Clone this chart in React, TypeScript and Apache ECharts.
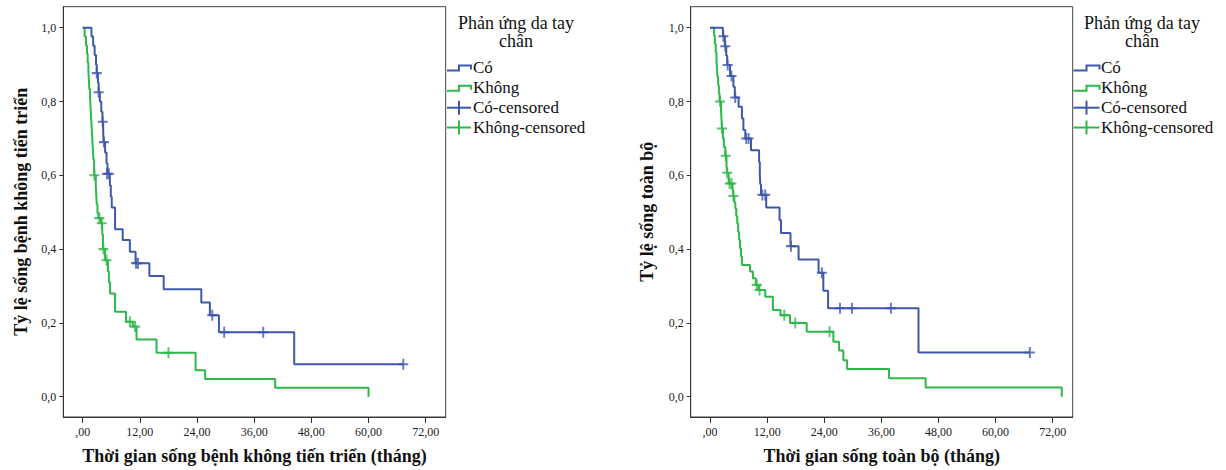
import React, { useEffect, useRef } from "react";
import * as echarts from "echarts";

const xTicks = [0, 12, 24, 36, 48, 60, 72];
const yTicks = [0, 0.2, 0.4, 0.6, 0.8, 1.0];
const legendTitle = ["Phản ứng da tay", "chân"];
const legendLabels = ["Có", "Không", "Có-censored", "Không-censored"];
const pfsXTitle = "Thời gian sống bệnh không tiến triển (tháng)";
const pfsYTitle = "Tỷ lệ sống bệnh không tiến triển";
const osXTitle = "Thời gian sống toàn bộ (tháng)";
const osYTitle = "Tỷ lệ sống toàn bộ";

// Progression-free survival, "Có" group: [time, survival after event]
const pfsCo = [
  [0, 1.0], [1.85, 0.976], [2.2, 0.951], [2.5, 0.926], [2.8, 0.9], [2.95, 0.877],
  [3.2, 0.851], [3.35, 0.825], [3.6, 0.8], [3.9, 0.772], [4.15, 0.745], [4.3, 0.718],
  [4.4, 0.69], [4.7, 0.662], [5.0, 0.633], [5.2, 0.604], [5.7, 0.573], [5.9, 0.542],
  [6.1, 0.513], [6.8, 0.454], [8.4, 0.425], [9.9, 0.393], [11.1, 0.362], [14.0, 0.327],
  [17.0, 0.291], [24.9, 0.255], [26.7, 0.221], [28.6, 0.175], [44.4, 0.088], [67.4, 0.088],
];
const pfsCoCensored = [
  [2.95, 0.877], [3.35, 0.825], [4.2, 0.745], [4.45, 0.69], [5.1, 0.604], [5.5, 0.604],
  [11.2, 0.362], [11.6, 0.362], [27.2, 0.221], [29.7, 0.175], [37.9, 0.175], [67.3, 0.088],
];
const pfsKhong = [
  [0, 1.0], [0.4, 0.976], [0.7, 0.952], [0.9, 0.929], [1.05, 0.905], [1.2, 0.881],
  [1.3, 0.857], [1.4, 0.833], [1.55, 0.81], [1.65, 0.786], [1.75, 0.762], [1.85, 0.738],
  [1.95, 0.714], [2.05, 0.69], [2.15, 0.667], [2.25, 0.643], [2.4, 0.619], [2.45, 0.6],
  [2.75, 0.571], [2.85, 0.547], [2.95, 0.522], [3.1, 0.498], [3.3, 0.484], [3.8, 0.47],
  [4.1, 0.44], [4.25, 0.4], [4.7, 0.37], [5.3, 0.34], [5.5, 0.31], [5.75, 0.28],
  [6.8, 0.23], [9.1, 0.203], [10.5, 0.19], [11.3, 0.155], [15.5, 0.119], [23.7, 0.072],
  [25.7, 0.048], [40.4, 0.024], [60.0, 0.0],
];
const pfsKhongCensored = [
  [2.45, 0.6], [3.5, 0.484], [4.0, 0.47], [4.35, 0.4], [5.0, 0.37], [9.9, 0.203],
  [11.0, 0.19], [18.0, 0.119],
];

// Overall survival
const osCo = [
  [0, 1.0], [2.7, 0.977], [3.1, 0.95], [3.4, 0.925], [3.6, 0.899], [4.2, 0.869],
  [4.9, 0.84], [5.2, 0.811], [6.0, 0.786], [6.7, 0.754], [7.0, 0.723], [7.4, 0.7],
  [8.6, 0.668], [10.3, 0.636], [10.45, 0.605], [10.55, 0.576], [10.7, 0.547], [11.8, 0.513],
  [14.6, 0.479], [14.9, 0.444], [16.9, 0.408], [18.6, 0.372], [22.8, 0.336], [23.8, 0.287],
  [24.8, 0.24], [43.8, 0.12], [67.2, 0.12],
];
const osCoCensored = [
  [2.8, 0.977], [3.2, 0.95], [3.7, 0.899], [4.5, 0.869], [5.3, 0.811], [7.6, 0.7],
  [8.1, 0.7], [11.0, 0.547], [11.6, 0.547], [17.0, 0.408], [23.5, 0.336], [27.3, 0.24],
  [29.8, 0.24], [38.0, 0.24], [67.2, 0.12],
];
const osKhong = [
  [0, 1.0], [0.85, 0.978], [1.0, 0.956], [1.2, 0.933], [1.35, 0.911], [1.45, 0.889],
  [1.55, 0.867], [1.7, 0.844], [1.85, 0.822], [2.0, 0.8], [2.3, 0.777], [2.4, 0.752],
  [2.5, 0.727], [2.7, 0.7], [2.9, 0.677], [3.2, 0.653], [3.45, 0.63], [3.55, 0.607],
  [3.9, 0.578], [4.7, 0.561], [4.85, 0.544], [5.1, 0.527], [5.3, 0.51], [5.5, 0.49],
  [5.7, 0.47], [5.9, 0.447], [6.1, 0.425], [6.3, 0.402], [6.5, 0.38], [6.7, 0.357],
  [8.4, 0.339], [9.0, 0.321], [9.6, 0.303], [10.2, 0.289], [11.6, 0.271], [13.2, 0.235],
  [14.8, 0.221], [16.8, 0.2], [20.3, 0.176], [25.9, 0.149], [27.1, 0.125], [28.0, 0.099],
  [28.8, 0.075], [37.6, 0.05], [45.3, 0.025], [73.9, 0.0],
];
const osKhongCensored = [
  [2.1, 0.8], [2.5, 0.727], [3.3, 0.653], [3.6, 0.607], [4.1, 0.578], [4.5, 0.578],
  [4.9, 0.544], [9.8, 0.303], [10.4, 0.289], [15.6, 0.221], [17.9, 0.2], [25.1, 0.176],
];

const BLUE = "#3E58AC";
const GREEN = "#2EB848";
const FONT = "Liberation Serif";
const PLUS = "path://M0,5L10,5M5,0L5,10";

function fmtX(v: number) {
  return v === 0 ? ",00" : v.toFixed(2).replace(".", ",");
}
function fmtY(v: number) {
  return v.toFixed(1).replace(".", ",");
}

function axesFor(gridIndex: number, xName: string, yName: string, yGap: number) {
  const x = {
    type: "value",
    gridIndex,
    min: -4.07,
    max: 76.2,
    name: xName,
    nameLocation: "middle",
    nameGap: 30,
    nameTextStyle: { fontFamily: FONT, fontWeight: "bold", fontSize: 18, color: "#111" },
    axisLine: { show: true, onZero: false, lineStyle: { color: "#333", width: 1 } },
    axisTick: { show: true, length: 6, customValues: xTicks, lineStyle: { color: "#333" } },
    axisLabel: {
      customValues: xTicks,
      formatter: fmtX,
      fontFamily: FONT,
      fontSize: 12,
      color: "#222",
      margin: 9,
    },
    splitLine: { show: false },
  };
  const y = {
    type: "value",
    gridIndex,
    min: -0.055,
    max: 1.057,
    name: yName,
    nameLocation: "middle",
    nameGap: yGap,
    nameTextStyle: { fontFamily: FONT, fontWeight: "bold", fontSize: 18, color: "#111" },
    axisLine: { show: true, onZero: false, lineStyle: { color: "#333", width: 1 } },
    axisTick: { show: true, length: 4, customValues: yTicks, lineStyle: { color: "#333" } },
    axisLabel: {
      customValues: yTicks,
      formatter: fmtY,
      fontFamily: FONT,
      fontSize: 12,
      color: "#222",
      margin: 7,
    },
    splitLine: { show: false },
  };
  return { x, y };
}

function stepSeries(name: string, data: number[][], color: string, idx: number) {
  return {
    name,
    type: "line",
    step: "end",
    xAxisIndex: idx,
    yAxisIndex: idx,
    data,
    symbol: "none",
    lineStyle: { color, width: 2 },
    z: 2,
  };
}

function censorSeries(name: string, data: number[][], color: string, idx: number) {
  return {
    name,
    type: "scatter",
    xAxisIndex: idx,
    yAxisIndex: idx,
    data,
    symbol: PLUS,
    symbolSize: [10, 11],
    itemStyle: { color: "none", borderColor: color, borderWidth: 2 },
    z: 3,
  };
}

function txt(text: string, x: number, y: number, align: string, size: number) {
  return {
    type: "text",
    style: {
      text,
      x,
      y,
      fontFamily: FONT,
      fontSize: size,
      fill: "#111",
      align,
      verticalAlign: "middle",
      textAlign: align,
      textVerticalAlign: "middle",
    },
  };
}

function legendGraphics(titleCx: number, iconX: number, iconW: number, textX: number) {
  const ys = [67, 87.3, 107.7, 127.5];
  const els: any[] = [];
  els.push(txt(legendTitle[0], titleCx, 22.7, "center", 18));
  els.push(txt(legendTitle[1], titleCx, 40.7, "center", 18));
  const colors = [BLUE, GREEN, BLUE, GREEN];
  ys.forEach((y, i) => {
    const c = colors[i];
    if (i < 2) {
      const m = iconX + iconW / 2;
      els.push({
        type: "polyline",
        shape: {
          points: [
            [iconX, y + 3.5],
            [m, y + 3.5],
            [m, y - 1.5],
            [iconX + iconW, y - 1.5],
            [iconX + iconW, y + 2.5],
          ],
        },
        style: { stroke: c, lineWidth: 2, fill: "none" },
      });
    } else {
      els.push({
        type: "line",
        shape: { x1: iconX, y1: y, x2: iconX + iconW, y2: y },
        style: { stroke: c, lineWidth: 2 },
      });
      els.push({
        type: "line",
        shape: { x1: iconX + iconW / 2, y1: y - 7, x2: iconX + iconW / 2, y2: y + 7 },
        style: { stroke: c, lineWidth: 2 },
      });
    }
    els.push(txt(legendLabels[i], textX, y, "left", 17));
  });
  return els;
}

export default function App() {
  const ref = useRef<HTMLDivElement>(null);
  useEffect(() => {
    if (!ref.current) return;
    const chart = echarts.init(ref.current, undefined, { renderer: "svg" });
    const a0 = axesFor(0, pfsXTitle, pfsYTitle, 33);
    const a1 = axesFor(1, osXTitle, osYTitle, 35);
    chart.setOption({
      animation: false,
      backgroundColor: "#ffffff",
      textStyle: { fontFamily: FONT },
      grid: [
        { left: 63.3, top: 6.7, width: 382.4, height: 410.3, show: true, borderColor: "#444", borderWidth: 1, backgroundColor: "transparent" },
        { left: 690.7, top: 6.7, width: 382, height: 410.3, show: true, borderColor: "#444", borderWidth: 1, backgroundColor: "transparent" },
      ],
      xAxis: [a0.x, a1.x],
      yAxis: [a0.y, a1.y],
      series: [
        stepSeries("Không", pfsKhong, GREEN, 0),
        stepSeries("Có", pfsCo, BLUE, 0),
        censorSeries("Không-censored", pfsKhongCensored, GREEN, 0),
        censorSeries("Có-censored", pfsCoCensored, BLUE, 0),
        stepSeries("Không", osKhong, GREEN, 1),
        stepSeries("Có", osCo, BLUE, 1),
        censorSeries("Không-censored", osKhongCensored, GREEN, 1),
        censorSeries("Có-censored", osCoCensored, BLUE, 1),
      ],
      graphic: [
        ...legendGraphics(516, 447, 24, 473),
        ...legendGraphics(1142, 1073.5, 26, 1101),
      ],
    });
    return () => chart.dispose();
  }, []);
  return (
    <div
      ref={ref}
      style={{ position: "absolute", left: 0, top: 0, width: 1226, height: 470 }}
    />
  );
}
